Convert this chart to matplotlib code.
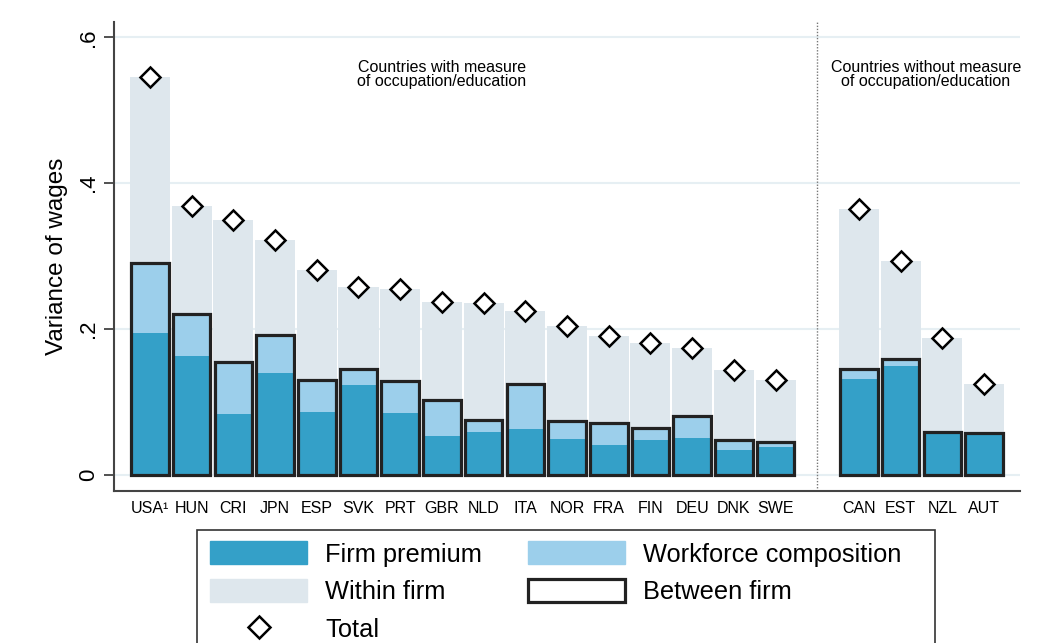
import matplotlib
matplotlib.use("Agg")
import matplotlib.pyplot as plt
from matplotlib.patches import Patch, Rectangle
from matplotlib.lines import Line2D
import numpy as np

plt.rcParams['font.family'] = ['Liberation Sans', 'DejaVu Sans']

countries = ["USA¹", "HUN", "CRI", "JPN", "ESP", "SVK", "PRT", "GBR", "NLD", "ITA",
             "NOR", "FRA", "FIN", "DEU", "DNK", "SWE", "CAN", "EST", "NZL", "AUT"]
total = [0.545, 0.369, 0.349, 0.322, 0.281, 0.257, 0.255, 0.237, 0.235, 0.224,
         0.204, 0.190, 0.180, 0.174, 0.143, 0.130, 0.365, 0.293, 0.187, 0.125]
between_firm = [0.290, 0.221, 0.154, 0.191, 0.130, 0.145, 0.129, 0.102, 0.075, 0.125,
                0.073, 0.071, 0.064, 0.081, 0.047, 0.045, 0.145, 0.158, 0.058, 0.057]
firm_premium = [0.195, 0.163, 0.083, 0.139, 0.086, 0.123, 0.084, 0.053, 0.058, 0.063,
                0.049, 0.041, 0.047, 0.050, 0.034, 0.038, 0.131, 0.149, 0.058, 0.057]

c_fp = "#34a0c8"
c_wc = "#9ccfeb"
c_wf = "#dee7ed"
c_grid = "#e6eff3"

pos = np.array(list(range(16)) + list(range(17, 21)))

W, H = 1037, 643
fig = plt.figure(figsize=(W / 100, H / 100), dpi=100)
ax = fig.add_axes([0.110, 0.2364, 0.8736, 0.7294])

ax.set_axisbelow(True)
for yv in [0, 0.2, 0.4, 0.6]:
    ax.axhline(yv, color=c_grid, lw=1.5, zorder=0)

w = 0.96
ax.bar(pos, total, width=w, color=c_wf, zorder=1)
ax.bar(pos, between_firm, width=0.9, color=c_wc, zorder=2)
ax.bar(pos, firm_premium, width=0.9, color=c_fp, zorder=3)
ax.bar(pos, between_firm, width=0.9, facecolor="none", edgecolor="#222222", lw=2.3, zorder=4)
ax.plot(pos, total, ls="none", marker="D", markersize=10, markerfacecolor="white",
        markeredgecolor="black", markeredgewidth=1.8, zorder=5)

ax.axvline(16, color="#777777", ls=(0, (1, 1.2)), lw=1.0, zorder=1)

ax.set_xlim(-0.86, 20.86)
ax.set_ylim(-0.0224, 0.621)
ax.set_xticks(pos)
ax.set_xticklabels(countries, fontsize=11.5)
ax.tick_params(axis="x", length=0, pad=7)
ax.set_yticks([0, 0.2, 0.4, 0.6])
ax.set_yticklabels(["0", ".2", ".4", ".6"], rotation=90, va="center", fontsize=16)
ax.tick_params(axis="y", length=7, width=1.2, color="#333333", pad=4)
ax.set_ylabel("Variance of wages", fontsize=17.5, labelpad=7)

for s in ["top", "right"]:
    ax.spines[s].set_visible(False)
for s in ["left", "bottom"]:
    ax.spines[s].set_color("#444444")
    ax.spines[s].set_linewidth(1.5)

ax.text(7.0, 0.549, "Countries with measure\nof occupation/education", ha="center",
        va="center", fontsize=11.5, linespacing=0.9)
ax.text(18.6, 0.549, "Countries without measure\nof occupation/education", ha="center",
        va="center", fontsize=11.5, linespacing=0.9)

handles = [
    Patch(facecolor=c_fp, edgecolor=c_fp, label="Firm premium"),
    Patch(facecolor=c_wf, edgecolor=c_wf, label="Within firm"),
    Line2D([], [], ls="none", marker="D", markersize=11, markerfacecolor="white",
           markeredgecolor="black", markeredgewidth=1.8, label="Total"),
    Patch(facecolor=c_wc, edgecolor=c_wc, label="Workforce composition"),
    Patch(facecolor="white", edgecolor="#222222", lw=2.3, label="Between firm"),
]
leg = fig.legend(handles=handles, ncol=2, loc="upper left",
                 bbox_to_anchor=(199 / W, 1 - 530 / H), fontsize=18.3, frameon=False,
                 handlelength=3.8, handleheight=1.0, handletextpad=0.72,
                 columnspacing=1.8, labelspacing=0.5, borderpad=0.45, borderaxespad=0)

# legend frame (extends below the figure edge, as in the reference)
fig.patches.append(Rectangle((197 / W, -0.05), (935 - 197) / W, 0.05 + 1 - 530 / H,
                             transform=fig.transFigure, facecolor="none",
                             edgecolor="#333333", lw=1.2, zorder=0))

fig.savefig("out.png", dpi=100)
